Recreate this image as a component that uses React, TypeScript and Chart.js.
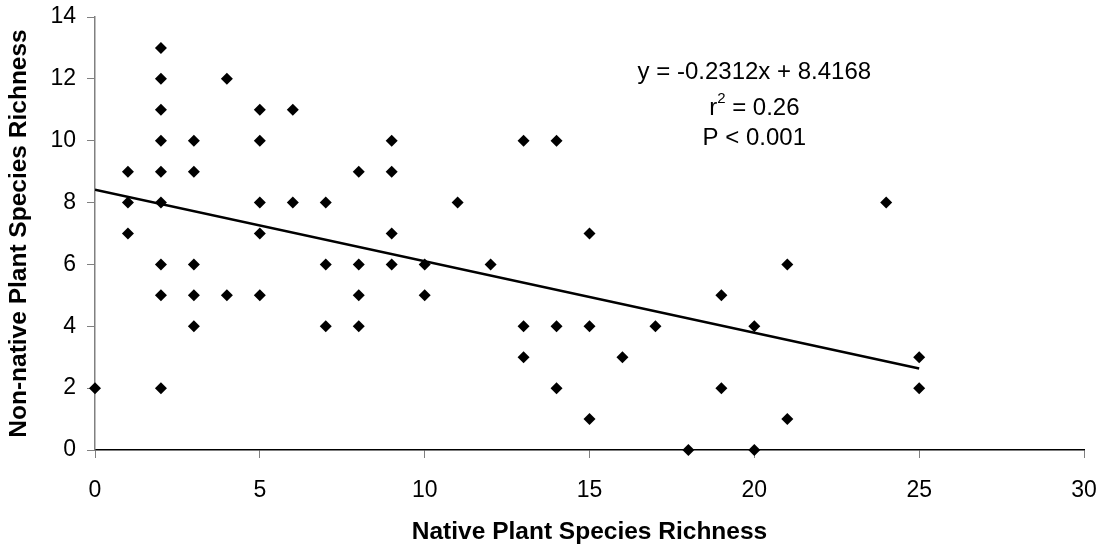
import React, { useEffect, useRef } from 'react';
import { Chart, registerables } from 'chart.js';

Chart.register(...registerables);

// Native species richness per plot (x) and non-native richness (y)
const nativeRichness = [
  0,
  1, 1, 1,
  2, 2, 2, 2, 2, 2, 2, 2, 2,
  3, 3, 3, 3, 3,
  4, 4,
  5, 5, 5, 5, 5,
  6, 6,
  7, 7, 7,
  8, 8, 8, 8,
  9, 9, 9, 9,
  10, 10,
  11,
  12,
  13, 13, 13,
  14, 14, 14,
  15, 15, 15,
  16,
  17,
  18,
  19, 19,
  20, 20,
  21, 21,
  24,
  25, 25,
];
const nonNativeRichness = [
  2,
  9, 8, 7,
  13, 12, 11, 10, 9, 8, 6, 5, 2,
  10, 9, 6, 5, 4,
  12, 5,
  11, 10, 8, 7, 5,
  11, 8,
  8, 6, 4,
  9, 6, 5, 4,
  10, 9, 7, 6,
  6, 5,
  8,
  6,
  10, 4, 3,
  10, 4, 2,
  7, 4, 1,
  3,
  4,
  0,
  5, 2,
  4, 0,
  6, 1,
  8,
  3, 2,
];

// Least-squares fit
const fitSlope = -0.2312;
const fitIntercept = 8.4168;
const fitRange = [0, 25];

const equationText = 'y = -0.2312x + 8.4168';
const rSquaredText = ' = 0.26';
const pValueText = 'P < 0.001';

const xTicks = { min: 0, max: 30, step: 5 };
const yTicks = { min: 0, max: 14, step: 2 };

const FONT = '"Liberation Sans", Arial, sans-serif';

const statsPlugin = {
  id: 'fitStats',
  afterDatasetsDraw(chart: any) {
    const { ctx, scales } = chart;
    const cx = scales.x.getPixelForValue(20);
    const y1 = scales.y.getPixelForValue(12.2);
    const y2 = scales.y.getPixelForValue(11.05);
    const y3 = scales.y.getPixelForValue(10.08);
    const mainFont = `24px ${FONT}`;
    const supFont = `15px ${FONT}`;
    ctx.save();
    ctx.fillStyle = '#000';
    ctx.textBaseline = 'middle';
    ctx.textAlign = 'center';
    ctx.font = mainFont;
    ctx.fillText(equationText, cx, y1);
    ctx.fillText(pValueText, cx, y3);

    // r² line with a raised exponent
    const wr = ctx.measureText('r').width;
    const wRest = ctx.measureText(rSquaredText).width;
    ctx.font = supFont;
    const wSup = ctx.measureText('2').width;
    const total = wr + wSup + wRest;
    let x = cx - total / 2;
    ctx.textAlign = 'left';
    ctx.font = mainFont;
    ctx.fillText('r', x, y2);
    x += wr;
    ctx.font = supFont;
    ctx.fillText('2', x, y2 - 9);
    x += wSup;
    ctx.font = mainFont;
    ctx.fillText(rSquaredText, x, y2);
    ctx.restore();
  },
};

export default function App() {
  const canvasRef = useRef<HTMLCanvasElement | null>(null);

  useEffect(() => {
    if (!canvasRef.current) return;
    const points = nativeRichness.map((x, i) => ({ x, y: nonNativeRichness[i] }));
    const fitLine = fitRange.map((x) => ({ x, y: fitSlope * x + fitIntercept }));

    const chart = new Chart(canvasRef.current, {
      type: 'scatter',
      data: {
        datasets: [
          {
            label: 'Plots',
            data: points,
            pointStyle: 'rectRot',
            pointRadius: 6,
            pointBackgroundColor: '#000',
            pointBorderColor: '#000',
            pointBorderWidth: 0,
            clip: false as any,
            order: 1,
          },
          {
            type: 'line' as any,
            label: 'Fit',
            data: fitLine,
            borderColor: '#000',
            borderWidth: 2.5,
            pointRadius: 0,
            fill: false,
            order: 0,
          } as any,
        ],
      },
      options: {
        animation: false,
        responsive: true,
        maintainAspectRatio: false,
        layout: { padding: { top: 17, right: 18, left: 0, bottom: 0 } },
        plugins: {
          legend: { display: false },
          tooltip: { enabled: false },
        },
        scales: {
          x: {
            type: 'linear',
            min: xTicks.min,
            max: xTicks.max,
            ticks: {
              stepSize: xTicks.step,
              color: '#000',
              font: { family: FONT, size: 23 },
              padding: 19,
              maxRotation: 0,
            },
            grid: {
              drawOnChartArea: false,
              drawTicks: true,
              tickLength: 8,
              color: '#808080',
            },
            border: { display: true, color: '#000', width: 1.5 },
            title: {
              display: true,
              text: 'Native Plant Species Richness',
              color: '#000',
              font: { family: FONT, size: 24.5, weight: 'bold' },
              padding: { top: 0, bottom: 1.3 },
            },
            afterFit: (s: any) => {
              s.height = 98;
              s.paddingLeft = 0;
              s.paddingRight = 0;
            },
          },
          y: {
            type: 'linear',
            min: yTicks.min,
            max: yTicks.max,
            ticks: {
              stepSize: yTicks.step,
              color: '#000',
              font: { family: FONT, size: 23 },
              padding: 11,
            },
            grid: {
              drawOnChartArea: false,
              drawTicks: true,
              tickLength: 8,
              color: '#808080',
            },
            border: { display: true, color: '#808080', width: 1.5 },
            title: {
              display: true,
              text: 'Non-native Plant Species Richness',
              color: '#000',
              font: { family: FONT, size: 24.5, weight: 'bold' },
              padding: { top: 5, bottom: 0 },
            },
            afterFit: (s: any) => {
              s.width = 95;
              s.paddingTop = 0;
              s.paddingBottom = 0;
            },
          },
        },
      },
      plugins: [statsPlugin],
    });
    return () => chart.destroy();
  }, []);

  return (
    <div
      style={{
        position: 'fixed',
        left: 0,
        top: 0,
        width: 1102,
        height: 548,
        background: '#fff',
      }}
    >
      <canvas ref={canvasRef} />
    </div>
  );
}
